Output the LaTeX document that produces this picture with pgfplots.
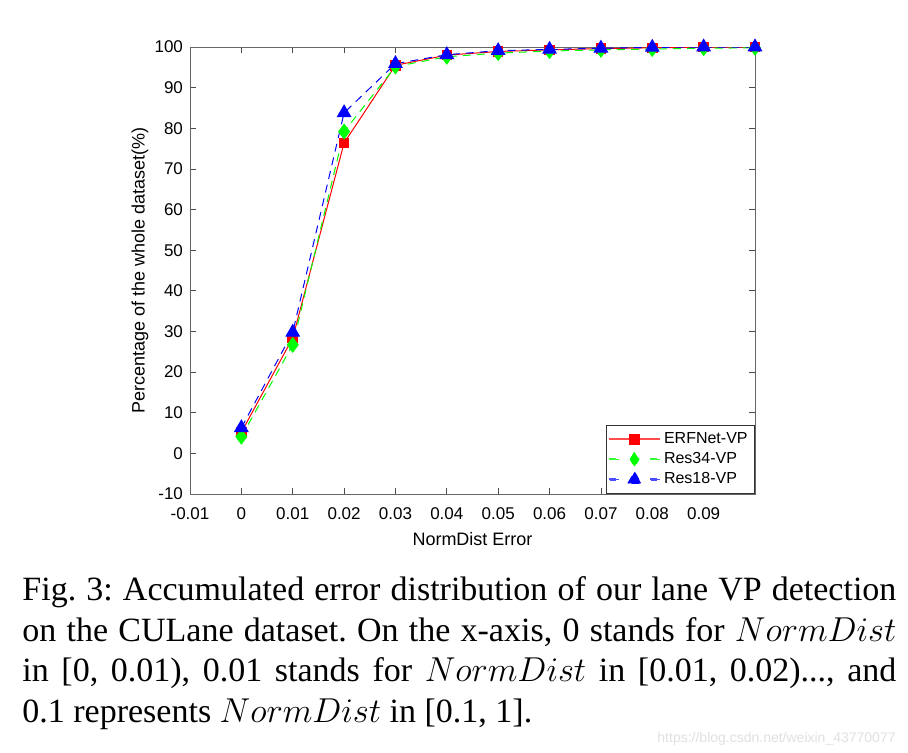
\documentclass[border=0pt]{standalone}
\usepackage{fontspec}
\setmainfont{Liberation Serif}
\newfontfamily\arial{Liberation Sans}
\usepackage{pgfplots}
\pgfplotsset{compat=1.18}
\begin{document}
\begin{tikzpicture}
\path[use as bounding box] (0pt,0pt) rectangle (454pt,376pt);
\begin{axis}[
  at={(95pt,129pt)}, anchor=south west,
  width=282.5pt, height=223.5pt, scale only axis,
  xmin=-0.01, xmax=0.1, ymin=-10, ymax=100,
  xtick={-0.01,0,0.01,0.02,0.03,0.04,0.05,0.06,0.07,0.08,0.09,0.1},
  xticklabels={-0.01,0,0.01,0.02,0.03,0.04,0.05,0.06,0.07,0.08,0.09,},
  ytick={-10,0,10,20,30,40,50,60,70,80,90,100},
  yticklabels={-10,0,10,20,30,40,50,60,70,80,90,100},
  tick align=inside, tick pos=both,
  major tick length=3pt,
  every tick/.style={black!70, line width=0.4pt},
  axis line style={black!60, line width=0.4pt},
  tick label style={font=\arial\fontsize{8.5}{10}\selectfont},
  xticklabel style={yshift=-3.5pt},
  /pgf/number format/assume math mode=true,
  xlabel={NormDist Error}, ylabel={Percentage of the whole dataset(\%)},
  label style={font=\arial\fontsize{9}{11}\selectfont},
  xlabel style={at={(axis description cs:0.5,-0.1007)}, anchor=center},
  ylabel style={at={(axis description cs:-0.0885,0.5)}, anchor=center, rotate=0},
  legend style={at={(1,0)}, anchor=south east, font=\arial\fontsize{8}{9.5}\selectfont,
    inner sep=1.5pt, row sep=-1pt, draw=black!80, line width=0.4pt},
  legend cell align=left,
]
\addplot[color=red, line width=0.5pt, mark=square*, mark size=2.4pt, mark options={solid, fill=red},
  legend image code/.code={%
    \fill[red!70] (0pt,-0.3pt) rectangle (25pt,0.3pt);
    \fill[red] (10.1pt,-2.4pt) rectangle (14.9pt,2.4pt);}]
  coordinates {(0,5.2) (0.01,28.4) (0.02,76.4) (0.03,95.5) (0.04,98.0) (0.05,98.9) (0.06,99.3) (0.07,99.6) (0.08,99.8) (0.09,100) (0.1,100)};
\addlegendentry{ERFNet-VP}
\addplot[color=green, line width=0.5pt, dash pattern=on 4pt off 3pt, mark=diamond*, mark size=3.6pt, mark options={solid, fill=green},
  legend image code/.code={%
    \fill[green!80] (0pt,-0.3pt) rectangle (4.5pt,0.3pt);
    \fill[green!80] (20.5pt,-0.3pt) rectangle (25pt,0.3pt);
    \fill[green] (10.3pt,0pt) -- (12.5pt,3.6pt) -- (14.7pt,0pt) -- (12.5pt,-3.6pt) -- cycle;}]
  coordinates {(0,4.1) (0.01,26.7) (0.02,79.2) (0.03,95.2) (0.04,97.6) (0.05,98.5) (0.06,99.0) (0.07,99.3) (0.08,99.5) (0.09,99.7) (0.1,99.8)};
\addlegendentry{Res34-VP}
\addplot[color=blue, line width=0.5pt, dash pattern=on 4pt off 3pt, mark=triangle*, mark size=3.8pt, mark options={solid, fill=blue},
  legend image code/.code={%
    \fill[blue!70] (0pt,-0.3pt) rectangle (4.5pt,0.3pt);
    \fill[blue!70] (20.5pt,-0.3pt) rectangle (25pt,0.3pt);
    \fill[blue] (9.2pt,-1.9pt) -- (12.5pt,3.8pt) -- (15.8pt,-1.9pt) -- cycle;}]
  coordinates {(0,6.3) (0.01,29.8) (0.02,83.8) (0.03,95.9) (0.04,98.1) (0.05,99.1) (0.06,99.4) (0.07,99.7) (0.08,99.9) (0.09,100) (0.1,100)};
\addlegendentry{Res18-VP}
\end{axis}
\node[anchor=north west, text width=437pt, inner sep=0pt, align=justify,
  font=\fontsize{17}{20.35}\selectfont] at (11pt,88pt)
  {\frenchspacing Fig. 3: Accumulated error distribution of our lane VP detection\linebreak
   on the CULane dataset. On the x-axis, 0 stands for $NormDist$\linebreak
   in [0, 0.01), 0.01 stands for $NormDist$ in [0.01, 0.02)..., and\linebreak
   0.1 represents $NormDist$ in [0.1, 1].};
\node[anchor=base east, inner sep=0pt, text=black!12, font=\arial\fontsize{7}{8}\selectfont]
  at (448pt,5pt) {https://blog.csdn.net/weixin\_43770077};
\end{tikzpicture}
\end{document}
